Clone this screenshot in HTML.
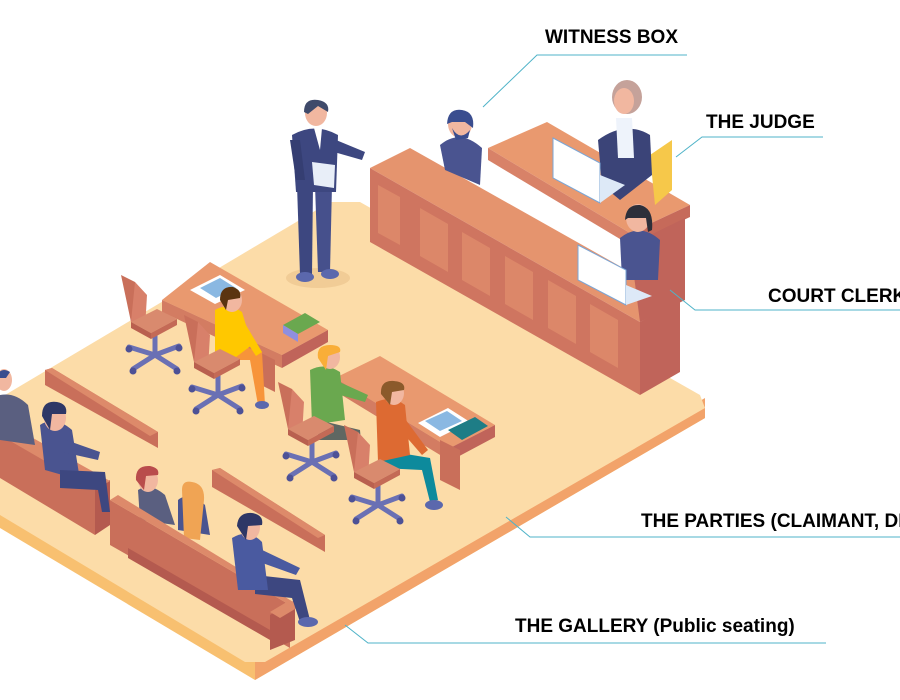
<!DOCTYPE html>
<html><head><meta charset="utf-8"><style>
html,body{margin:0;padding:0;background:#fff;}
svg{display:block;}
text{font-family:"Liberation Sans",sans-serif;font-weight:bold;font-size:19px;fill:#000;}
</style></head><body>
<svg width="900" height="700" viewBox="0 0 900 700" xmlns="http://www.w3.org/2000/svg">
<defs>
<g id="chair">
  <line x1="0" y1="-22" x2="0" y2="-2" stroke="#6a70b4" stroke-width="5"/>
  <g stroke="#6a70b4" stroke-width="5" stroke-linecap="round">
    <line x1="0" y1="0" x2="-26" y2="-8"/><line x1="0" y1="0" x2="24" y2="-9"/>
    <line x1="0" y1="0" x2="-22" y2="14"/><line x1="0" y1="0" x2="22" y2="14"/><line x1="0" y1="0" x2="0" y2="-12"/>
  </g>
  <g fill="#4d5196"><circle cx="-26" cy="-6" r="3.5"/><circle cx="24" cy="-7" r="3.5"/><circle cx="-22" cy="16" r="3.5"/><circle cx="22" cy="16" r="3.5"/></g>
  <polygon points="-34,-80 -20,-73 -10,-26 -24,-33" fill="#c96f5a"/>
  <polygon points="-24,-33 -10,-26 -8,-60 -20,-73" fill="#d8806a"/>
  <polygon points="-24,-33 -4,-22 22,-36 2,-46" fill="#d98a6e"/>
  <polygon points="-24,-33 -4,-22 -4,-16 -24,-27" fill="#b9604f"/>
  <polygon points="-4,-22 22,-36 22,-30 -4,-16" fill="#c46a56"/>
</g>
</defs>

<!-- floor -->
<polygon points="0,420 345,215 705,418 255,680 0,528" fill="#f8c070"/>
<polygon points="255,680 705,418 705,398 255,660" fill="#f2a36a"/>
<polygon points="0,398 330,202 360,202 700,395 705,408 265,662 245,662 0,515" fill="#fcdca8"/>

<!-- bench back (witness/clerk panel) -->
<polygon points="370,168 410,148 680,300 640,322" fill="#e5946e"/>
<polygon points="370,168 640,322 640,395 370,242" fill="#cf7560"/>
<polygon points="640,322 680,300 680,372 640,395" fill="#c0645a"/>
<g fill="#dc8769">
<polygon points="378,185 400,197 400,245 378,233"/>
<polygon points="420,208 448,224 448,272 420,256"/>
<polygon points="462,232 490,248 490,296 462,280"/>
<polygon points="505,256 533,272 533,320 505,304"/>
<polygon points="548,280 576,296 576,344 548,328"/>
<polygon points="590,304 618,320 618,368 590,352"/>
</g>
<!-- judge desk -->
<polygon points="488,148 547,122 690,205 630,233" fill="#e9996f"/>
<polygon points="488,148 630,233 630,245 488,160" fill="#d88268"/>
<polygon points="630,233 690,205 690,217 630,245" fill="#c66a5a"/>
<polygon points="630,245 685,218 685,300 640,322" fill="#c0645a"/>
<!-- judge -->
<polygon points="650,155 672,140 672,190 655,205" fill="#f6c84a"/>
<path d="M598,140 Q625,120 650,135 L652,175 L620,200 L602,185 Z" fill="#3b4478"/>
<polygon points="616,118 632,118 634,158 618,158" fill="#eef3fb"/>
<ellipse cx="627" cy="97" rx="15" ry="17" fill="#c5a29a"/>
<ellipse cx="624" cy="101" rx="10" ry="13" fill="#f1b7a0"/>
<polygon points="553,138 600,163 600,203 553,178" fill="#fff" stroke="#7aa6d6" stroke-width="1"/>
<polygon points="600,175 625,185 600,203" fill="#dde9f7"/>
<!-- witness -->
<path d="M440,145 Q460,128 482,148 L480,185 L445,170 Z" fill="#4a5490"/>
<ellipse cx="460" cy="124" rx="12" ry="14" fill="#f1b7a0"/>
<path d="M447,124 Q448,108 462,110 Q475,112 473,128 L465,122 L452,122 Z" fill="#3a4d8f"/>
<path d="M452,128 Q460,142 470,130 L468,138 L456,140 Z" fill="#3a4d8f"/>
<!-- clerk -->
<path d="M620,238 Q640,222 660,240 L658,280 L622,280 Z" fill="#4a5490"/>
<ellipse cx="638" cy="218" rx="12" ry="14" fill="#f1b7a0"/>
<path d="M625,220 Q626,204 640,205 Q654,208 652,230 L648,232 L646,218 L628,218 Z" fill="#2d2f3a"/>
<polygon points="578,245 626,270 626,305 578,280" fill="#fff" stroke="#7aa6d6" stroke-width="1"/>
<polygon points="626,285 652,296 626,305" fill="#dde9f7"/>

<!-- lawyer -->
<ellipse cx="318" cy="278" rx="32" ry="10" fill="#f1cc96"/>
<polygon points="297,185 313,185 312,275 300,275" fill="#3d4780"/>
<polygon points="315,185 332,185 330,272 318,272" fill="#46508c"/>
<ellipse cx="305" cy="277" rx="9" ry="5" fill="#5b68ad"/>
<ellipse cx="330" cy="274" rx="9" ry="5" fill="#5b68ad"/>
<path d="M292,135 Q315,122 338,135 L336,192 L296,192 Z" fill="#3d4780"/>
<polygon points="336,140 365,152 362,160 334,152" fill="#3d4780"/>
<polygon points="290,140 300,140 305,180 296,180" fill="#353e72"/>
<polygon points="312,162 335,165 334,188 314,185" fill="#e8eef8"/>
<polygon points="314,128 322,128 320,150" fill="#fff"/>
<ellipse cx="316" cy="113" rx="11" ry="13" fill="#f1b7a0"/>
<path d="M304,112 Q304,98 318,100 Q330,102 328,112 L318,106 L308,114 Z" fill="#3f4a6a"/>

<!-- gallery rails -->
<polygon points="45,370 52,368 158,432 158,448 45,385" fill="#c96f5a"/>
<polygon points="45,370 52,368 158,432 150,436" fill="#dd8a6a"/>
<polygon points="212,470 220,468 325,535 325,552 212,487" fill="#c96f5a"/>
<polygon points="212,470 220,468 325,535 318,538" fill="#dd8a6a"/>

<!-- table 1 -->
<polygon points="162,300 210,262 328,330 282,355" fill="#e9996f"/>
<polygon points="162,300 282,355 282,368 162,312" fill="#d37c62"/>
<polygon points="282,355 328,330 328,342 282,368" fill="#c0645a"/>
<polygon points="255,350 275,360 275,392 255,382" fill="#c96f5a"/>
<polygon points="190,290 220,275 245,290 215,304" fill="#fff"/><polygon points="200,288 220,278 236,288 216,298" fill="#8ab8e2"/>
<polygon points="283,325 305,313 320,322 298,334 " fill="#6aa84f"/><polygon points="283,325 298,334 298,342 283,333" fill="#8f8fe0"/>
<!-- table 2 -->
<polygon points="335,378 380,356 495,425 450,448" fill="#e9996f"/>
<polygon points="335,378 450,448 450,461 335,391" fill="#d37c62"/>
<polygon points="450,448 495,425 495,437 450,461" fill="#c0645a"/>
<polygon points="440,440 460,450 460,490 440,480" fill="#c96f5a"/>
<polygon points="418,423 448,408 470,422 440,437" fill="#fff"/><polygon points="425,421 447,411 462,421 440,431" fill="#8ab8e2"/>
<polygon points="448,430 475,417 488,426 462,440" fill="#1e7d86"/>

<!-- chairs and parties -->
<use href="#chair" x="155" y="355"/>
<polygon points="238,345 262,352 265,405 258,405 250,360 232,360" fill="#f7943a"/>
<ellipse cx="262" cy="405" rx="7" ry="4" fill="#5b68ad"/>
<path d="M215,310 Q228,302 242,312 L252,345 L232,360 L215,352 Z" fill="#ffc800"/>
<polygon points="240,315 262,352 256,356 236,325" fill="#ffc800"/>
<ellipse cx="232" cy="300" rx="10" ry="12" fill="#f1b7a0"/>
<path d="M220,300 Q220,286 233,287 Q242,290 240,298 L228,300 L226,310 Z" fill="#5b3410"/>
<use href="#chair" x="218" y="395"/>
<polygon points="318,420 360,430 362,455 355,455 352,440 318,440" fill="#5f6762"/>
<path d="M310,370 Q325,362 340,372 L345,420 L312,425 Z" fill="#6aa84f"/>
<polygon points="335,380 368,395 365,402 330,392" fill="#6aa84f"/>
<ellipse cx="330" cy="357" rx="10" ry="12" fill="#f1b7a0"/>
<path d="M318,358 Q316,345 330,345 Q342,345 340,352 L328,356 L326,370 Z" fill="#f9ae38"/>
<use href="#chair" x="312" y="462"/>
<polygon points="382,450 430,458 438,500 430,502 422,470 382,468" fill="#0d8a9c"/>
<ellipse cx="434" cy="505" rx="9" ry="5" fill="#5b68ad"/>
<path d="M376,402 Q392,395 405,405 L410,455 L378,462 Z" fill="#dd6a32"/>
<polygon points="400,412 428,450 422,455 396,425" fill="#dd6a32"/>
<ellipse cx="394" cy="393" rx="10" ry="12" fill="#f1b7a0"/>
<path d="M381,394 Q380,380 394,381 Q406,382 404,390 L392,392 L390,405 Z" fill="#8b5a2b"/>
<use href="#chair" x="378" y="505"/>

<!-- gallery bench 1 (left) -->
<polygon points="0,430 95,488 95,535 0,478" fill="#c96f5a"/>
<polygon points="95,488 110,480 110,525 95,535" fill="#b45a4f"/>
<polygon points="0,435 95,490 110,481 15,428" fill="#dd8a6a"/>
<path d="M0,395 Q15,392 28,405 L35,445 L0,440 Z" fill="#5a5f80"/>
<ellipse cx="4" cy="380" rx="8" ry="11" fill="#f1b7a0"/>
<path d="M-4,378 Q0,366 10,372 L6,378 Z" fill="#3a4d8f"/>
<path d="M40,425 Q55,415 72,430 L80,480 L45,470 Z" fill="#4a5490"/>
<polygon points="60,470 105,472 110,512 102,512 98,490 60,488" fill="#3d4780"/>
<polygon points="66,440 100,452 98,460 62,452" fill="#4a5490"/>
<ellipse cx="55" cy="418" rx="11" ry="13" fill="#f1b7a0"/>
<path d="M42,416 Q42,400 57,402 Q68,404 66,414 L52,414 L50,430 Z" fill="#2e3766"/>

<!-- gallery bench 2 -->
<path d="M138,490 Q150,482 165,495 L175,525 L140,520 Z" fill="#5a5f80"/>
<ellipse cx="148" cy="480" rx="10" ry="12" fill="#f1b7a0"/>
<path d="M136,480 Q135,465 150,466 Q160,468 158,475 L146,476 L144,490 Z" fill="#b94c4c"/>
<path d="M178,500 Q190,490 205,505 L210,535 L178,530 Z" fill="#4a5490"/>
<path d="M182,490 Q182,480 192,482 Q205,484 204,500 L200,540 L184,538 Z" fill="#f0a454"/>
<polygon points="110,500 290,605 290,648 110,545" fill="#c96f5a"/>
<polygon points="110,500 118,495 290,600 290,605" fill="#dd8a6a"/>
<polygon points="128,548 270,630 270,640 128,558" fill="#b45a4f"/>
<polygon points="270,615 295,600 295,640 270,650" fill="#b45a4f"/>
<polygon points="270,612 290,600 300,606 280,618" fill="#dd8a6a"/>
<polygon points="255,575 300,580 310,620 300,622 292,598 255,594" fill="#3d4780"/>
<ellipse cx="308" cy="622" rx="10" ry="5" fill="#5b68ad"/>
<path d="M232,538 Q248,528 262,542 L268,590 L238,590 Z" fill="#4a5aa0"/>
<polygon points="258,548 300,568 296,575 254,560" fill="#4a5aa0"/>
<ellipse cx="250" cy="527" rx="10" ry="13" fill="#f1b7a0"/>
<path d="M237,526 Q238,512 252,513 Q264,515 262,525 L248,526 L246,540 Z" fill="#2e3766"/>

<!-- label connectors -->
<g stroke="#4fb3c8" stroke-width="1" fill="none">
<polyline points="483,107 537,55 687,55"/>
<polyline points="676,157 702,137 823,137"/>
<polyline points="670,290 695,310 900,310"/>
<polyline points="506,517 530,537 900,537"/>
<polyline points="345,625 368,643 826,643"/>
</g>
<text x="545" y="43">WITNESS BOX</text>
<text x="706" y="128">THE JUDGE</text>
<text x="768" y="302">COURT CLERK</text>
<text x="641" y="527">THE PARTIES (CLAIMANT, DEFENDANT)</text>
<text x="515" y="632">THE GALLERY (Public seating)</text>
</svg>
</body></html>
